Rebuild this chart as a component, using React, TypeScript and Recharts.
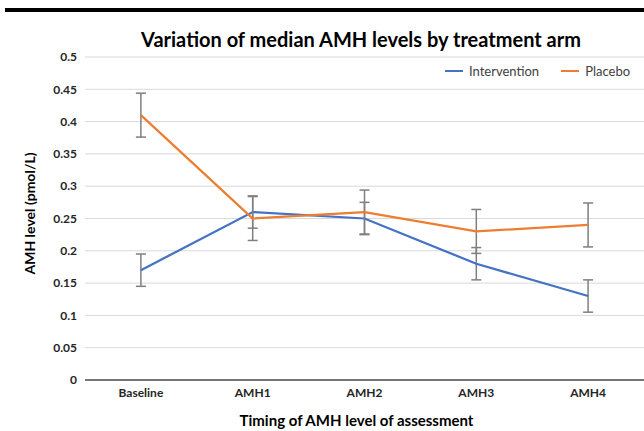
import { LineChart, Line, XAxis, YAxis, CartesianGrid, ErrorBar, Label } from 'recharts';

const categories = ['Baseline', 'AMH1', 'AMH2', 'AMH3', 'AMH4'];
const intervention = [0.17, 0.26, 0.25, 0.18, 0.13];
const interventionErr = [0.025, 0.025, 0.025, 0.025, 0.025];
const placebo = [0.41, 0.25, 0.26, 0.23, 0.24];
const placeboErr = [0.034, 0.034, 0.034, 0.034, 0.034];
const yTicks = [0, 0.05, 0.1, 0.15, 0.2, 0.25, 0.3, 0.35, 0.4, 0.45, 0.5];

const series = [
  { key: 'intervention', errKey: 'interventionErr', name: 'Intervention', color: '#4472C4' },
  { key: 'placebo', errKey: 'placeboErr', name: 'Placebo', color: '#ED7D31' },
];

const data = categories.map((name, i) => ({
  name,
  intervention: intervention[i],
  interventionErr: interventionErr[i],
  placebo: placebo[i],
  placeboErr: placeboErr[i],
}));

const font = 'Lato, "Open Sans", sans-serif';

export default function App() {
  return (
    <div style={{ position: 'absolute', left: 0, top: 0, width: 644, height: 431, background: '#fff', fontFamily: font, overflow: 'hidden' }}>
      <div style={{ position: 'absolute', left: 5, top: 8, width: 639, height: 4, background: '#000' }} />
      <div
        style={{
          position: 'absolute',
          left: 0,
          width: 722,
          top: 27,
          textAlign: 'center',
          fontSize: 20,
          fontWeight: 700,
          color: '#000',
        }}
      >
        Variation of median AMH levels by treatment arm
      </div>
      <div style={{ position: 'absolute', top: 63, left: 445, display: 'flex', alignItems: 'center', fontSize: 13, color: '#404040' }}>
        {series.map((s) => (
          <div key={s.key} style={{ display: 'flex', alignItems: 'center', marginRight: 22 }}>
            <div style={{ width: 18, height: 2, background: s.color, marginRight: 6 }} />
            <span>{s.name}</span>
          </div>
        ))}
      </div>
      <LineChart
        width={644}
        height={431}
        data={data}
        accessibilityLayer={false}
        margin={{ top: 57, right: 0, left: 0, bottom: 0 }}
      >
        <CartesianGrid stroke="#d9d9d9" vertical={false} />
        <XAxis
          dataKey="name"
          scale="band"
          height={51}
          axisLine={{ stroke: '#000' }}
          tickLine={false}
          tick={{ fontSize: 12, fontWeight: 700, fill: '#262626', fontFamily: font }}
        >
          <Label
            value="Timing of AMH level of assessment"
            position="insideBottom"
            offset={5}
            dx={-8}
            style={{ fontSize: 15, fontWeight: 700, fill: '#000', fontFamily: font }}
          />
        </XAxis>
        <YAxis
          width={85}
          domain={[0, 0.5]}
          ticks={yTicks}
          interval={0}
          axisLine={false}
          tickLine={false}
          tick={{ fontSize: 12, fontWeight: 700, fill: '#262626', fontFamily: font }}
        >
          <Label
            value="AMH level (pmol/L)"
            angle={-90}
            position="insideLeft"
            offset={30}
            dy={-5}
            style={{ fontSize: 14, fontWeight: 700, fill: '#000', fontFamily: font, textAnchor: 'middle' }}
          />
        </YAxis>
        {series.map((s) => (
          <Line
            key={s.key}
            dataKey={s.key}
            name={s.name}
            stroke={s.color}
            strokeWidth={2.25}
            dot={false}
            activeDot={false}
            isAnimationActive={false}
          >
            <ErrorBar dataKey={s.errKey} width={5} stroke="#7f7f7f" strokeWidth={1.5} />
          </Line>
        ))}
      </LineChart>
    </div>
  );
}
